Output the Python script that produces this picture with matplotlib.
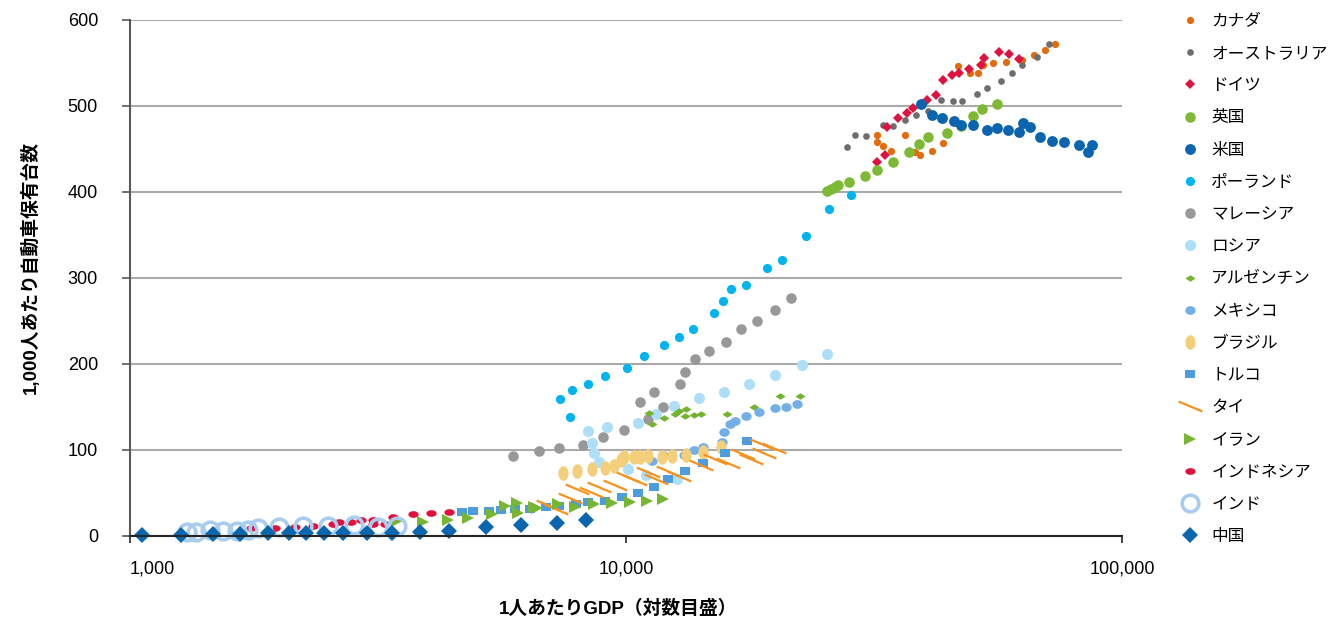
import numpy as np
import matplotlib.pyplot as plt
from matplotlib.path import Path
from matplotlib.ticker import FixedLocator, NullLocator

plt.rcParams['font.family'] = ['Liberation Sans', 'Noto Sans CJK JP']

# GDP per capita (x) and cars per 1,000 people (y)
canada_gdp = [32100, 32100, 32900, 34200, 36500, 38300, 39200, 41400, 43500,
              46700, 49300, 51200, 52500, 55000, 58300, 63000, 66600, 70100, 73100]
canada_cars = [466, 458, 453, 448, 466, 447, 443, 448, 457,
               547, 538, 538, 548, 550, 551, 553, 559, 565, 572]

australia_gdp = [27900, 29000, 30500, 32900, 34600, 36500, 38400, 40600, 43100,
                 45700, 47600, 50900, 53400, 56900, 59900, 63000, 67500, 71400]
australia_cars = [452, 466, 465, 478, 477, 484, 490, 494, 507,
                  506, 506, 514, 521, 529, 538, 548, 557, 572]

germany_gdp = [32000, 33300, 33600, 35400, 36900, 37900, 40400, 42100, 43500,
               45500, 47000, 49100, 51900, 52600, 56600, 59200, 62100]
germany_cars = [435, 443, 476, 486, 492, 498, 507, 513, 530,
                536, 538, 543, 548, 556, 563, 560, 555]

uk_gdp = [25400, 25900, 26400, 26800, 28200, 30300, 32100, 34600, 37200,
          39000, 40600, 44400, 47400, 50000, 52200, 56100]
uk_cars = [401, 403, 406, 408, 412, 419, 426, 435, 447,
           456, 464, 469, 477, 488, 497, 502]

us_gdp = [39300, 41400, 43300, 45900, 47400, 50000, 53400, 55900, 58900,
          61900, 63300, 65100, 68300, 72400, 76500, 81900, 87100, 85400]
us_cars = [502, 490, 486, 483, 478, 478, 472, 474, 472,
           470, 480, 476, 464, 459, 458, 455, 455, 447]

poland_gdp = [7360, 7710, 7780, 8370, 9070, 10050, 10850, 11950, 12800, 13680,
              15050, 15690, 16300, 17460, 19200, 20650, 23090, 25640, 28360]
poland_cars = [159, 138, 170, 177, 186, 195, 209, 222, 231, 241,
               259, 273, 287, 292, 312, 321, 349, 380, 397]

malaysia_gdp = [5920, 6670, 7320, 8180, 8970, 9910, 10670, 11060, 11380, 11860,
                12860, 13160, 13780, 14690, 15880, 17030, 18390, 19980, 21530]
malaysia_cars = [93, 99, 102, 106, 115, 123, 156, 136, 167, 150,
                 177, 191, 206, 215, 226, 241, 250, 263, 277]

russia_gdp = [8370, 8530, 8610, 8830, 9170, 10090, 10570, 10970, 11500,
              12510, 12700, 14040, 15760, 17690, 19980, 22670, 25370]
russia_cars = [122, 108, 97, 86, 127, 78, 131, 71, 142,
               151, 66, 160, 167, 177, 187, 199, 212]

argentina_gdp = [11150, 11300, 11910, 12560, 12760, 13230, 13160, 13710, 14170,
                 16000, 18130, 20410, 22380]
argentina_cars = [143, 130, 137, 142, 145, 148, 140, 141, 142,
                  142, 150, 163, 163]

mexico_gdp = [11300, 11860, 13090, 13710, 14280, 15620, 15760, 16230, 16550,
              17460, 18530, 19980, 21000, 22160]
mexico_cars = [87, 94, 94, 100, 103, 109, 121, 130, 134,
               140, 144, 149, 150, 153]

brazil_gdp = [7460, 7980, 8550, 9070, 9460, 9790, 9890, 10370, 10670, 11060,
              11800, 12400, 13230, 14280, 15550]
brazil_cars = [73, 76, 78, 79, 81, 88, 92, 92, 92, 93,
               92, 93, 94, 98, 103]

turkey_gdp = [4670, 4920, 5300, 5600, 5960, 6410, 6890, 7320, 7920, 8370,
              9070, 9830, 10570, 11380, 12170, 13160, 14280, 15830, 17530]
turkey_cars = [28, 29, 29, 30, 31, 31, 34, 35, 37, 40,
               41, 45, 50, 57, 66, 76, 85, 97, 110]

thailand_gdp = [6960, 7240, 7710, 7980, 8510, 8830, 9500, 10090, 10420, 11100,
                11510, 12170, 12810, 14170, 15130, 16020, 17200, 17860, 18790,
                18960, 19860]
thailand_cars = [36, 31, 44, 55, 51, 57, 59, 69, 65, 74,
                 66, 76, 70, 83, 90, 85, 95, 90, 107,
                 96, 102]

iran_gdp = [3460, 3900, 4370, 4800, 5370, 5700, 6030, 6060, 6530, 6620, 7290,
            7880, 8610, 9370, 10190, 11030, 11860]
iran_cars = [17, 16, 19, 21, 26, 35, 38, 27, 34, 33, 37,
             34, 37, 38, 40, 41, 43]

indonesia_gdp = [1750, 1960, 2150, 2340, 2570, 2640, 2790, 2920, 3090, 3090,
                 3260, 3390, 3720, 4050, 4400]
indonesia_cars = [9, 9, 10, 12, 14, 16, 16, 19, 19, 14,
                  14, 22, 26, 27, 28]

india_gdp = [1300, 1360, 1450, 1540, 1640, 1730, 1815, 2000, 2235, 2510,
             2830, 3160, 3460]
india_cars = [5, 5, 7, 6, 6, 7, 9, 10, 12, 12,
              13, 10, 12]

china_gdp = [1057, 1266, 1467, 1670, 1900, 2095, 2265, 2460, 2690, 3000,
             3380, 3850, 4390, 5230, 6140, 7270, 8300]
china_cars = [1, 1, 2, 2, 3, 3, 3, 3, 3, 3,
              3, 5, 6, 10, 13, 15, 19]

x_ticks = [1000, 10000, 100000]
x_tick_labels = ['1,000', '10,000', '100,000']
y_ticks = [0, 100, 200, 300, 400, 500, 600]

# custom marker shapes
t = np.linspace(0, 2 * np.pi, 40)
tall_ellipse = Path(np.column_stack([0.7 * np.cos(t), np.sin(t)]))
wide_ellipse = Path(np.column_stack([np.cos(t), 0.65 * np.sin(t)]))
round_ellipse = Path(np.column_stack([np.cos(t), 0.85 * np.sin(t)]))
flat_diamond = Path([(-1, 0), (0, 0.65), (1, 0), (0, -0.65), (-1, 0)], closed=True)
flat_square = Path([(-1, -0.78), (1, -0.78), (1, 0.78), (-1, 0.78), (-1, -0.78)], closed=True)
slash = Path([(-1, 0.42), (1, -0.42)], [Path.MOVETO, Path.LINETO])

fig = plt.figure(figsize=(13.38, 6.2), dpi=100)
ax = fig.add_axes([130 / 1338, 84 / 620, 992 / 1338, 516 / 620])

series = [
    ('カナダ', canada_gdp, canada_cars, dict(marker='o', ms=5.2, color='#E36C0A')),
    ('オーストラリア', australia_gdp, australia_cars, dict(marker='o', ms=4.8, color='#6D6D6D')),
    ('ドイツ', germany_gdp, germany_cars, dict(marker='D', ms=4.9, color='#DE1440')),
    ('英国', uk_gdp, uk_cars, dict(marker='o', ms=7.6, color='#7DB935')),
    ('米国', us_gdp, us_cars, dict(marker='o', ms=7.8, color='#0A65AE')),
    ('ポーランド', poland_gdp, poland_cars, dict(marker='o', ms=6.6, color='#00B4F0')),
    ('マレーシア', malaysia_gdp, malaysia_cars, dict(marker='o', ms=7.6, color='#989898')),
    ('ロシア', russia_gdp, russia_cars, dict(marker='o', ms=8.0, color='#AEDFF8')),
    ('アルゼンチン', argentina_gdp, argentina_cars, dict(marker=flat_diamond, ms=7.2, color='#74B32E')),
    ('メキシコ', mexico_gdp, mexico_cars, dict(marker=round_ellipse, ms=7.4, color='#72AFE6')),
    ('ブラジル', brazil_gdp, brazil_cars, dict(marker=tall_ellipse, ms=10.5, color='#F3CF7C')),
    ('トルコ', turkey_gdp, turkey_cars, dict(marker=flat_square, ms=7.0, color='#4C9CDE')),
    ('タイ', thailand_gdp, thailand_cars, dict(marker=slash, ms=17, color='#F7921E', mew=1.6)),
    ('イラン', iran_gdp, iran_cars, dict(marker='>', ms=8.8, color='#78B631')),
    ('インドネシア', indonesia_gdp, indonesia_cars, dict(marker=wide_ellipse, ms=7.4, color='#E0113F')),
    ('インド', india_gdp, india_cars, dict(marker='o', ms=12, mfc='none', mew=2.6, color='#A8CDEE')),
    ('中国', china_gdp, china_cars, dict(marker='D', ms=8.2, color='#0A66AF')),
]

for name, xs, ys, style in series:
    style = dict(style)
    c = style.pop('color')
    style.setdefault('mfc', c)
    style.setdefault('mew', 0)
    ax.plot(xs, ys, ls='none', mec=c, label=name, clip_on=False, **style)

ax.set_xscale('log')
ax.set_xlim(1000, 100000)
ax.set_ylim(0, 600)
ax.xaxis.set_major_locator(FixedLocator(x_ticks))
ax.xaxis.set_minor_locator(NullLocator())
ax.set_xticklabels(x_tick_labels)
ax.set_yticks(y_ticks)
ax.get_xticklabels()[0].set_horizontalalignment('left')

ax.grid(axis='y', color='#AAAAAA', lw=1.5)
ax.set_axisbelow(True)
for s in ['top', 'right']:
    ax.spines[s].set_visible(False)
ax.spines['left'].set_color('#595959')
ax.spines['left'].set_linewidth(1.5)
ax.spines['bottom'].set_color('#262626')
ax.spines['bottom'].set_linewidth(1.5)
ax.tick_params(axis='y', length=6, width=1.2, color='#595959', pad=17, labelsize=13)
ax.tick_params(axis='x', length=5, width=1.2, color='#262626', pad=13, labelsize=13)

fig.text(30 / 1338, 1 - 268 / 620, '1,000人あたり自動車保有台数', rotation=90,
         ha='center', va='center', fontsize=13.5, fontweight='bold')
fig.text(618 / 1338, 1 - 609 / 620, '1人あたりGDP（対数目盛）',
         ha='center', va='center', fontsize=13.5, fontweight='bold')

ax.legend(loc='upper left', bbox_to_anchor=(1173 / 1338, 1 - 7 / 620),
          bbox_transform=fig.transFigure, frameon=False, numpoints=1,
          fontsize=12, handlelength=1.2, handletextpad=0.7, labelspacing=1.03,
          borderaxespad=0)

fig.savefig('out.png', dpi=100)
